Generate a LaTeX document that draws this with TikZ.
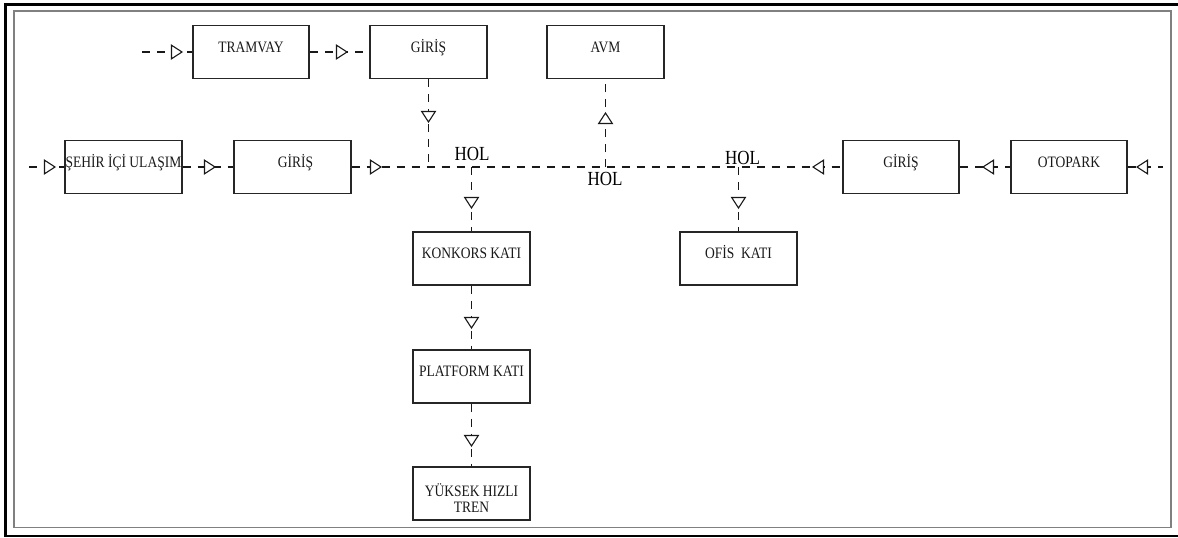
\documentclass[tikz,border=0pt]{standalone}
\usepackage{fontspec}
\newfontfamily\lblfont[FakeStretch=0.85]{Liberation Serif}
\begin{document}
\begin{tikzpicture}[x=1pt,y=-1pt,
  box/.style={draw=black!85, line width=1.6pt, minimum width=116.5pt, minimum height=53pt, inner sep=0pt},
  txt/.style={font=\lblfont\fontsize{15.9}{18}\selectfont, anchor=base, inner sep=0pt, text=black!90},
  hol/.style={font=\lblfont\fontsize{20}{24}\selectfont, anchor=base, inner sep=0pt},
  dline/.style={draw=black!90, line width=1.1pt, dash pattern=on 8pt off 7pt},
  otri/.pic={\draw[solid, line width=1.1pt, draw=black!90, fill=white] (0,0) -- (-10.5,6.8) -- (-10.5,-6.8) -- cycle;}
]
\useasboundingbox (0,0) rectangle (1178,538);
% frames
\draw[line width=2.5pt] (5.3,4.5) rectangle (1182,536);
\draw[gray, line width=1.8pt] (13.7,11) rectangle (1171,527.5);

% boxes
\node[box] (tram)   at (251,52) {};
\node[box] (gtop)   at (428.5,52) {};
\node[box] (avm)    at (605.5,52) {};
\node[box] (sehir)  at (123.5,167) {};
\node[box] (gleft)  at (292.5,167) {};
\node[box] (gright) at (901,167) {};
\node[box] (oto)    at (1069,167) {};
\node[box] (konk)   at (471.5,258.5) {};
\node[box] (ofis)   at (738.5,258.5) {};
\node[box] (plat)   at (471.5,376.5) {};
\node[box] (yht)    at (471.5,493.5) {};

% box texts
\node[txt] at (tram.center) {TRAMVAY};
\node[txt] at (gtop.center) {GİRİŞ};
\node[txt] at (avm.center) {AVM};
\node[txt] at (sehir.center) {ŞEHİR İÇİ ULAŞIM};
\node[txt] at ([xshift=3pt]gleft.center) {GİRİŞ};
\node[txt] at (gright.center) {GİRİŞ};
\node[txt] at (oto.center) {OTOPARK};
\node[txt] at (konk.center) {KONKORS KATI};
\node[txt] at (ofis.center) {OFİS\ \ KATI};
\node[txt] at (plat.center) {PLATFORM KATI};
\node[txt] at (471.5,496.5) {YÜKSEK HIZLI};
\node[txt] at (471.5,512.5) {TREN};

% HOL labels
\node[hol] (hol1) at (472,160.5) {HOL};
\node[hol] (hol2) at (605,185) {HOL};
\node[hol] (hol3) at (742.5,164) {HOL};

% free ends and junctions
\coordinate (tstart) at (142,52);
\coordinate (mstart) at (29,167);
\coordinate (mend)   at (1163,167);
\coordinate (j1) at (428.5,167);
\coordinate (j2) at (471.5,167);
\coordinate (j3) at (605.5,167);
\coordinate (j4) at (738.5,167);

% connectors
\draw[dline] (tstart) -- (tram.west);
\draw[dline] (tram.east) -- (gtop.west);
\draw[dline] (mstart) -- (sehir.west);
\draw[dline] (sehir.east) -- (gleft.west);
\draw[dline] (gleft.east) -- (gright.west);
\draw[dline] (gright.east) -- (oto.west);
\draw[dline] (oto.east) -- (mend);
\draw[dline] (gtop.south) -- (j1);
\draw[dline] (j3) -- (avm.south);
\draw[dline] (j2) -- (konk.north);
\draw[dline] (j4) -- (ofis.north);
\draw[dline] (konk.south) -- (plat.north);
\draw[dline] (plat.south) -- (yht.north);

% arrowheads
\pic at (182,52) {otri};
\pic at (347,52) {otri};
\pic at (55,167) {otri};
\pic at (215,167) {otri};
\pic at (381,167) {otri};
\pic[rotate=180] at (813,167) {otri};
\pic[rotate=180] at (983,167) {otri};
\pic[rotate=180] at (1137,167) {otri};
\pic[rotate=-90] at (428.5,122) {otri};
\pic[rotate=90] at (605.5,113) {otri};
\pic[rotate=-90] at (471.5,208) {otri};
\pic[rotate=-90] at (738.5,208) {otri};
\pic[rotate=-90] at (471.5,328) {otri};
\pic[rotate=-90] at (471.5,446) {otri};
\end{tikzpicture}
\end{document}
